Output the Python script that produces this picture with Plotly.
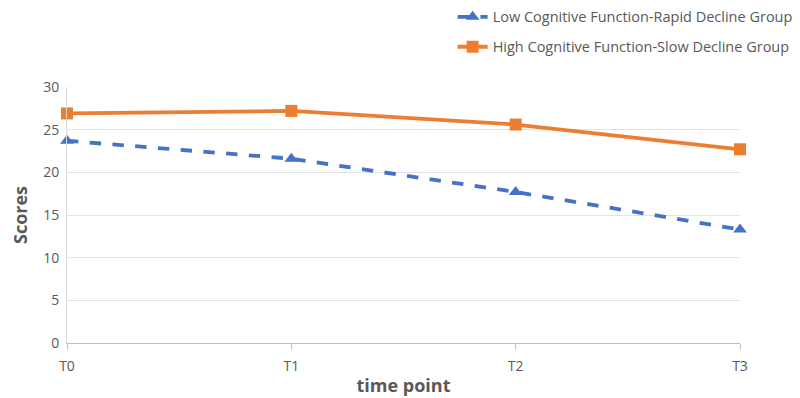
import plotly.graph_objects as go

categories = ["T0", "T1", "T2", "T3"]
low_rapid = [23.7, 21.6, 17.7, 13.3]
high_slow = [26.9, 27.2, 25.6, 22.7]
y_ticks = [0, 5, 10, 15, 20, 25, 30]

fig = go.Figure()
fig.add_trace(go.Scatter(
    x=categories, y=low_rapid, mode="lines+markers",
    name="Low Cognitive Function-Rapid Decline Group",
    line=dict(color="#4472C4", width=3.8, dash="dash"),
    marker=dict(symbol="triangle-up", size=12, color="#4472C4"),
    cliponaxis=False, legend="legend", showlegend=True,
))
fig.add_trace(go.Scatter(
    x=categories, y=high_slow, mode="lines+markers",
    name="High Cognitive Function-Slow Decline Group",
    line=dict(color="#ED7D31", width=3.8),
    marker=dict(symbol="square", size=12, color="#ED7D31"),
    cliponaxis=False, legend="legend2", showlegend=True,
))

font_family = "Open Sans, Noto Sans, sans-serif"
# page body has an 8px margin, so the figure is shifted by 8px
fig.update_layout(
    width=792, height=390,
    showlegend=True,
    margin=dict(l=59, r=60, t=79, b=55, autoexpand=False),
    paper_bgcolor="white", plot_bgcolor="white",
    font=dict(family=font_family, color="#595959", size=14),
    legend=dict(x=0.573, y=1.274, xanchor="left", yanchor="middle",
                font=dict(size=14.5, color="#595959"), bgcolor="rgba(0,0,0,0)"),
    legend2=dict(x=0.573, y=1.157, xanchor="left", yanchor="middle",
                 font=dict(size=14.5, color="#595959"), bgcolor="rgba(0,0,0,0)"),
    xaxis=dict(
        type="category", range=[0, 3],
        showgrid=False, showline=True, linecolor="#bfbfbf", linewidth=1,
        ticks="outside", ticklen=6, tickcolor="#bfbfbf",
        ticklabelstandoff=4,
        tickfont=dict(size=14, color="#595959"),
        title=dict(text="<b>time point</b>", font=dict(size=18, color="#595959"), standoff=5),
    ),
    yaxis=dict(
        range=[0, 30], tickvals=y_ticks,
        showgrid=True, gridcolor="#e3e3e3", gridwidth=1,
        showline=True, linecolor="#d9d9d9", linewidth=1,
        zeroline=False, ticks="",
        ticklabelstandoff=4,
        tickfont=dict(size=14, color="#595959"),
        title=dict(text="<b>Scores</b>", font=dict(size=18, color="#595959"), standoff=20),
    ),
)

fig.write_html("out.html")
